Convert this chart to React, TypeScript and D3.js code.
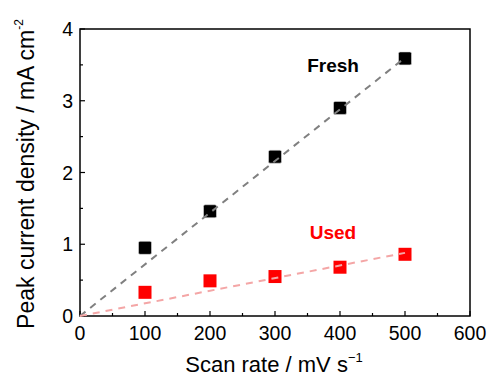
import { useEffect, useRef } from 'react';
import * as d3 from 'd3';

const scanRates = [100, 200, 300, 400, 500];
const freshValues = [0.95, 1.46, 2.22, 2.9, 3.59];
const usedValues = [0.33, 0.49, 0.55, 0.68, 0.86];
const freshFit = [[0, 0], [500, 3.6]];
const usedFit = [[0, 0], [500, 0.88]];
const xTicks = [0, 100, 200, 300, 400, 500, 600];
const yTicks = [0, 1, 2, 3, 4];

const App = () => {
    const svgRef = useRef<SVGSVGElement | null>(null);

    useEffect(() => {
        if (!svgRef.current) return;
        const svg = d3.select(svgRef.current);
        svg.selectAll('*').remove();

        const width = 489;
        const height = 378;
        const margin = { top: 29, right: 19, bottom: 62, left: 80 };

        const x = d3.scaleLinear().domain([0, 600]).range([margin.left, width - margin.right]);
        const y = d3.scaleLinear().domain([0, 4]).range([height - margin.bottom, margin.top]);

        const font = 'Arial, "Liberation Sans", sans-serif';

        // frame
        svg.append('rect')
            .attr('x', x(0)).attr('y', y(4))
            .attr('width', x(600) - x(0)).attr('height', y(0) - y(4))
            .attr('fill', 'none').attr('stroke', '#000').attr('stroke-width', 1.5);

        // x ticks (inward)
        const xAxis = svg.append('g').attr('font-family', font).attr('font-size', 19.5);
        d3.range(0, 601, 50).forEach(v => {
            const major = v % 100 === 0;
            xAxis.append('line')
                .attr('x1', x(v)).attr('x2', x(v))
                .attr('y1', y(0)).attr('y2', y(0) - (major ? 5 : 3))
                .attr('stroke', '#000').attr('stroke-width', 1.2);
        });
        xAxis.selectAll('text').data(xTicks).join('text')
            .attr('x', d => x(d)).attr('y', y(0) + 24)
            .attr('text-anchor', 'middle')
            .text(d => d);

        const yAxis = svg.append('g').attr('font-family', font).attr('font-size', 19.5);
        d3.range(0, 4.01, 0.5).forEach(v => {
            const major = Math.abs(v % 1) < 1e-9;
            yAxis.append('line')
                .attr('x1', x(0)).attr('x2', x(0) + (major ? 5 : 3))
                .attr('y1', y(v)).attr('y2', y(v))
                .attr('stroke', '#000').attr('stroke-width', 1.2);
        });
        yAxis.selectAll('text').data(yTicks).join('text')
            .attr('x', x(0) - 7).attr('y', d => y(d) + 7)
            .attr('text-anchor', 'end')
            .text(d => d);

        // markers
        const size = 13;
        svg.append('g').selectAll('rect').data(scanRates).join('rect')
            .attr('x', d => x(d) - size / 2)
            .attr('y', (d, i) => y(freshValues[i]) - size / 2)
            .attr('width', size).attr('height', size).attr('rx', 1.5)
            .attr('fill', '#000').attr('stroke', '#ddd').attr('stroke-width', 0.6);
        svg.append('g').selectAll('rect').data(scanRates).join('rect')
            .attr('x', d => x(d) - size / 2)
            .attr('y', (d, i) => y(usedValues[i]) - size / 2)
            .attr('width', size).attr('height', size)
            .attr('fill', '#ff0000');

        // fit lines
        const line = d3.line<number[]>().x(d => x(d[0])).y(d => y(d[1]));
        svg.append('path').attr('d', line(freshFit))
            .attr('fill', 'none').attr('stroke', '#808080')
            .attr('stroke-width', 2).attr('stroke-dasharray', '7,6');
        svg.append('path').attr('d', line(usedFit))
            .attr('fill', 'none').attr('stroke', '#f4a6a6')
            .attr('stroke-width', 2).attr('stroke-dasharray', '7,6');

        // labels
        svg.append('text').attr('x', 333).attr('y', 72)
            .attr('text-anchor', 'middle').attr('font-family', font)
            .attr('font-size', 19).attr('font-weight', 'bold').attr('fill', '#000')
            .text('Fresh');
        svg.append('text').attr('x', 333).attr('y', 239)
            .attr('text-anchor', 'middle').attr('font-family', font)
            .attr('font-size', 19).attr('font-weight', 'bold').attr('fill', '#ff0000')
            .text('Used');

        // axis titles
        const xt = svg.append('text').attr('x', 274).attr('y', 372)
            .attr('text-anchor', 'middle').attr('font-family', font).attr('font-size', 22);
        xt.append('tspan').text('Scan rate / mV s');
        xt.append('tspan').attr('dy', -10).attr('font-size', 13).text('\u22121');

        const yt = svg.append('text')
            .attr('transform', `translate(34,174) rotate(-90)`)
            .attr('text-anchor', 'middle').attr('font-family', font).attr('font-size', 23);
        yt.append('tspan').text('Peak current density / mA cm');
        yt.append('tspan').attr('dy', -11).attr('font-size', 12).text('-2');
    }, []);

    return <svg ref={svgRef} width={489} height={378} style={{ position: 'absolute', left: 0, top: 0 }} />;
};

export default App;
